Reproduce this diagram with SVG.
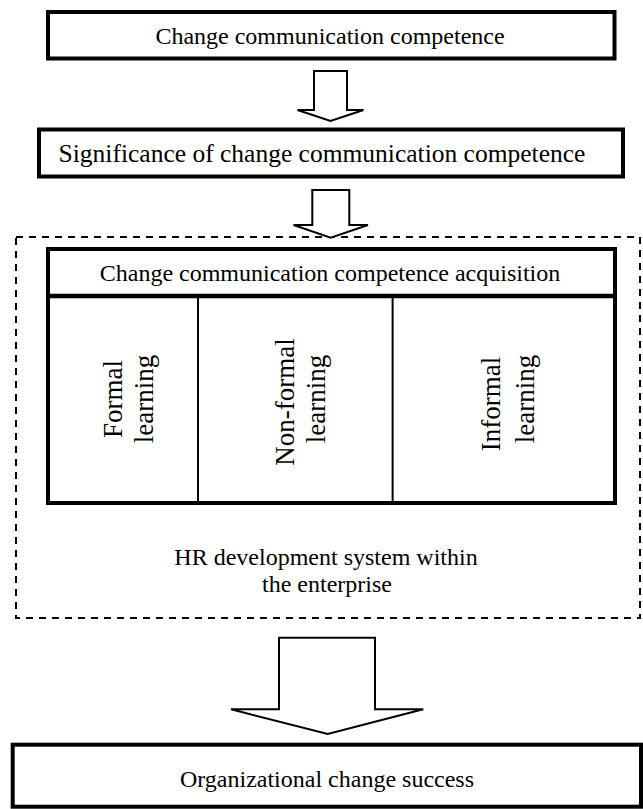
<svg xmlns="http://www.w3.org/2000/svg" width="643" height="809" viewBox="0 0 643 809">
  <style>
    .box { fill: #ffffff; stroke: #000000; stroke-width: 4; }
    .div { stroke: #000000; stroke-width: 2; fill: none; }
    .hdr { stroke: #000000; stroke-width: 4.5; fill: none; }
    .dash { fill: none; stroke: #000000; stroke-width: 2; stroke-dasharray: 7 6; }
    .arrow { fill: #ffffff; stroke: #000000; stroke-width: 2; stroke-linejoin: miter; }
    text { font-family: "Liberation Serif", "Times New Roman", serif; fill: #000000; text-anchor: middle; }
    .t25 { font-size: 25.5px; }
    .t24 { font-size: 24px; }
    .tv { font-size: 27px; }
  </style>

  <g id="hr-system">
    <rect class="dash" x="16" y="237" width="624" height="381"/>
    <text class="t24" x="326" y="565">HR development system within</text>
    <text class="t24" x="327" y="592">the enterprise</text>
  </g>

  <g id="node-competence">
    <rect class="box" x="48" y="12" width="566.5" height="46.5"/>
    <text class="t24" x="330" y="43.5">Change communication competence</text>
  </g>

  <g id="node-significance">
    <rect class="box" x="39" y="129.5" width="584" height="47"/>
    <text class="t25" x="322" y="162">Significance of change communication competence</text>
  </g>

  <g id="node-acquisition">
    <rect class="box" x="48" y="249" width="567" height="254"/>
    <line class="hdr" x1="48" y1="296" x2="615" y2="296"/>
    <text class="t24" x="330" y="280.5">Change communication competence acquisition</text>
    <line class="div" x1="198" y1="296" x2="198" y2="503"/>
    <line class="div" x1="392.6" y1="296" x2="392.6" y2="503"/>
  </g>

  <g id="node-formal">
    <text class="tv" transform="translate(122,399) rotate(-90)">Formal</text>
    <text class="tv" transform="translate(153,399) rotate(-90)">learning</text>
  </g>

  <g id="node-nonformal">
    <text class="tv" transform="translate(294,402) rotate(-90)">Non-formal</text>
    <text class="tv" transform="translate(324.5,399) rotate(-90)">learning</text>
  </g>

  <g id="node-informal">
    <text class="tv" transform="translate(500,404) rotate(-90)">Informal</text>
    <text class="tv" transform="translate(534,399) rotate(-90)">learning</text>
  </g>

  <g id="node-success">
    <rect class="box" x="12.7" y="744.7" width="628.3" height="62"/>
    <text class="t24" x="327" y="787">Organizational change success</text>
  </g>

  <g id="connectors">
    <polygon class="arrow" points="314,71 347,71 347,110 363.5,110 330.5,121 297.5,110 314,110"/>
    <polygon class="arrow" points="312.3,190 349.3,190 349.3,225 368,225 330.7,237.7 293.5,225 312.3,225"/>
    <polygon class="arrow" points="279,637.7 375,637.7 375,709.3 423.3,709.3 327.7,734 231,709.3 279,709.3"/>
  </g>
</svg>
